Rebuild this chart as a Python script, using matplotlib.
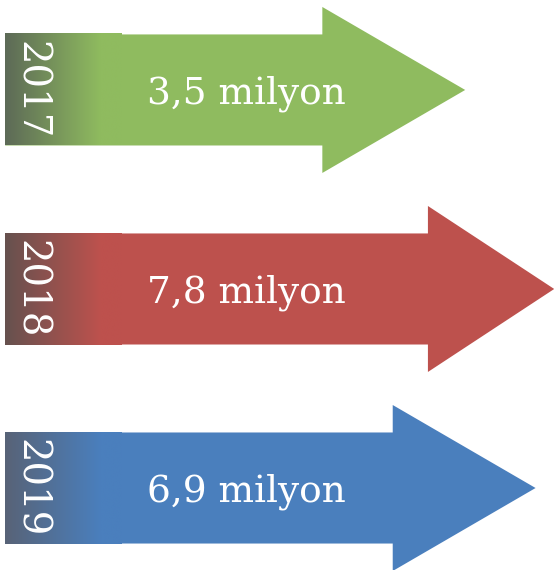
import numpy as np
import matplotlib.pyplot as plt
from matplotlib.patches import Polygon

# yearly figures, shown as arrows
years = ["2017", "2018", "2019"]
values = [3.5, 7.8, 6.9]
labels = ["3,5 milyon", "7,8 milyon", "6,9 milyon"]

colors = ["#8fbb5f", "#bd514d", "#4a7fbd"]
dark_colors = ["#5d6a57", "#66524f", "#586377"]
head_lens = [6.9, 6.1, 6.9]

# x axis: value units, arrows start from a fixed tail
x_left, x_right = -18.97, 7.79
tail = -18.72
grad_end = -13.07
grad_full = -14.1
body_h = 0.279
head_h = 0.417


def hex_rgb(c):
    c = c.lstrip("#")
    return np.array([int(c[i:i + 2], 16) for i in (0, 2, 4)]) / 255.0


def draw_arrow(ax, row, tip, head_len, color, dark):
    base = tip - head_len
    pts = [(tail, row - body_h), (base, row - body_h), (base, row - head_h),
           (tip, row), (base, row + head_h), (base, row + body_h),
           (tail, row + body_h)]
    ax.add_patch(Polygon(pts, closed=True, facecolor=color, edgecolor="none", zorder=1))

    # dark-to-colour fade on the tail end
    n = 200
    xs = np.linspace(tail, grad_end, n)
    t = np.clip((xs - tail) / (grad_full - tail), 0, 1)
    c0, c1 = hex_rgb(dark), hex_rgb(color)
    strip = (c0[None, :] * (1 - t[:, None]) + c1[None, :] * t[:, None])[None, :, :]
    ax.imshow(strip, extent=(tail, grad_end, row + body_h, row - body_h),
              aspect="auto", interpolation="bilinear", zorder=2)


fig = plt.figure(figsize=(5.54, 5.70), dpi=100)
ax = fig.add_axes([0, 0, 1, 1])

for i, (yr, v, lab) in enumerate(zip(years, values, labels)):
    draw_arrow(ax, i, v, head_lens[i], colors[i], dark_colors[i])
    ax.text(-17.5, i, yr, rotation=-90, ha="center", va="center",
            color="white", fontsize=27.8, family="DejaVu Serif", zorder=3)
    ax.text(-7.09, i + 0.02, lab, ha="center", va="center",
            color="white", fontsize=27, family="DejaVu Serif", zorder=3)

ax.set_xlim(x_left, x_right)
ax.set_ylim(2.412, -0.452)
ax.axis("off")

fig.savefig("out.png", dpi=100)
